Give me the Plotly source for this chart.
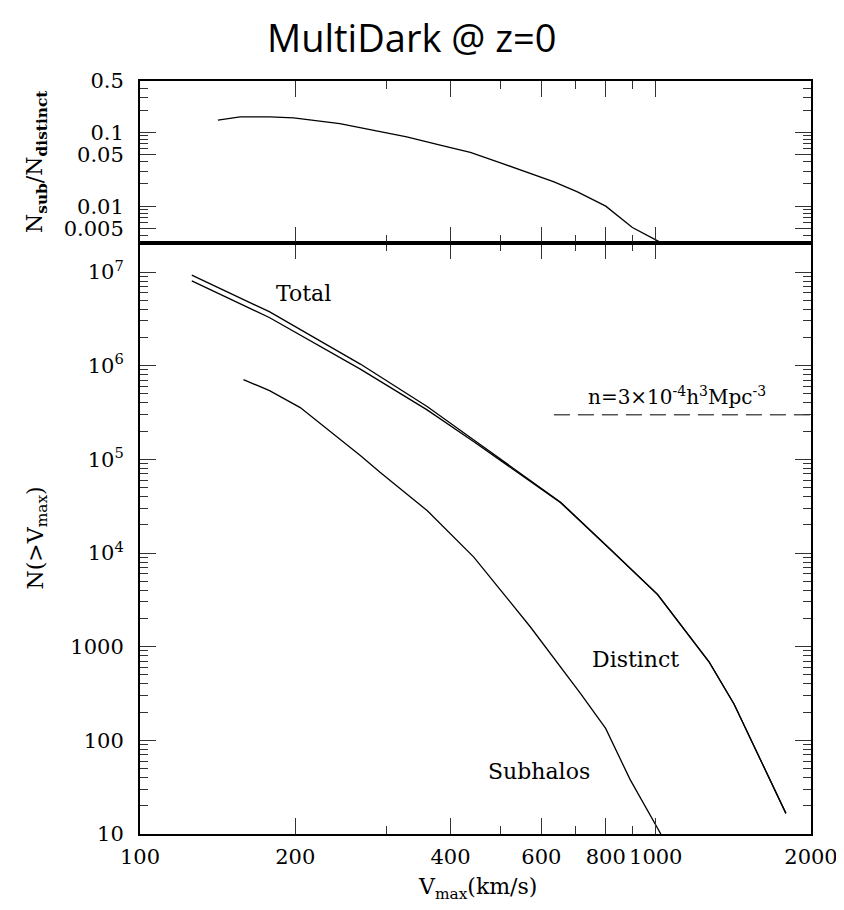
import numpy as np
import plotly.graph_objects as go

# ---------------- data ----------------
v_total = [126.0, 178.1, 267.4, 360.3, 443.2, 511.3, 654.0, 817.6, 1008, 1269, 1419, 1788]
n_total = [9.27e6, 3.77e6, 1.04e6, 3.66e5, 1.62e5, 9.25e4, 3.49e4, 1.09e4, 3620, 687, 243, 16.6]

v_distinct = [126.0, 178.1, 267.4, 360.3, 443.2, 511.3, 654.0, 817.6, 1008, 1269, 1419, 1788]
n_distinct = [8.05e6, 3.27e6, 9.18e5, 3.37e5, 1.55e5, 8.95e4, 3.44e4, 1.08e4, 3600, 686, 243, 16.6]

v_sub = [158.7, 178.3, 204.5, 267.4, 292.0, 360.3, 443.8, 571.5, 715.0, 799.6, 891.5, 1023]
n_sub = [7.10e5, 5.41e5, 3.57e5, 1.10e5, 7.28e4, 2.84e4, 9040, 1622, 316, 134, 38.3, 10]

v_ratio = [141.6, 156.4, 178.7, 198.6, 244, 329, 382, 437, 500, 635, 705, 800, 901, 1015]
r_ratio = [0.147, 0.163, 0.163, 0.158, 0.132, 0.0871, 0.0673, 0.0536, 0.0387, 0.0214,
           0.0156, 0.0100, 0.00514, 0.0033]

v_density = [634.6, 2000]
n_density = [3.0e5, 3.0e5]

x_tickvals = [100, 200, 400, 600, 800, 1000, 2000]
x_ticktext = ["100", "200", "400", "600", "800", "1000", "2000"]
x_minor = [300, 500, 700, 900]

y_tickvals = [10, 100, 1000, 1e4, 1e5, 1e6, 1e7]
y_ticktext = ["10", "100", "1000", "10<sup>4</sup>", "10<sup>5</sup>", "10<sup>6</sup>", "10<sup>7</sup>"]

r_tickvals = [0.005, 0.01, 0.05, 0.1, 0.5]
r_ticktext = ["0.005", "0.01", "0.05", "0.1", "0.5"]

# ----------------------------------------------------------------
SERIF = "DejaVu Serif"
FS = 21
split = 1 - 162 / 753

y_minor = [m * 10 ** e for e in range(1, 8) for m in range(2, 10) if m * 10 ** e < 2.05e7]
r_minor = [0.004, 0.006, 0.007, 0.008, 0.009, 0.02, 0.03, 0.04, 0.06, 0.07, 0.08, 0.09,
           0.2, 0.3, 0.4]

line = dict(color="black", width=1.3)
fig = go.Figure()
fig.add_trace(go.Scatter(x=v_total, y=n_total, mode="lines", line=line, xaxis="x", yaxis="y"))
fig.add_trace(go.Scatter(x=v_distinct, y=n_distinct, mode="lines", line=line, xaxis="x", yaxis="y"))
fig.add_trace(go.Scatter(x=v_sub, y=n_sub, mode="lines", line=line, xaxis="x", yaxis="y"))
fig.add_trace(go.Scatter(x=v_density, y=n_density, mode="lines",
                         line=dict(color="#555", width=1.5, dash="16px,8px"), xaxis="x", yaxis="y"))
fig.add_trace(go.Scatter(x=v_ratio, y=r_ratio, mode="lines", line=line, xaxis="x2", yaxis="y2"))

axis_common = dict(type="log", showgrid=False, zeroline=False, showline=True, linecolor="black",
                   linewidth=2, mirror="ticks", ticks="inside", ticklen=16, tickwidth=1,
                   tickcolor="#333", tickfont=dict(family=SERIF, size=FS, color="black"))

xr = [2, np.log10(2000)]
# the page body adds an 8px offset, so the figure is 8px smaller than the window
fig.update_layout(
    width=836, height=902,
    margin=dict(l=132, r=33, t=73, b=76, autoexpand=False),
    paper_bgcolor="white", plot_bgcolor="white",
    showlegend=False,
    xaxis=dict(axis_common, range=xr, domain=[0, 1], anchor="y",
               tickvals=x_tickvals, ticktext=x_ticktext, ticklabelstandoff=3,
               minor=dict(tickvals=x_minor, ticklen=8, ticks="inside", tickcolor="#333", showgrid=False)),
    yaxis=dict(axis_common, range=[1, np.log10(2.04e7)], domain=[0, split], anchor="x",
               tickvals=y_tickvals, ticktext=y_ticktext, ticklabelstandoff=10,
               minor=dict(tickvals=y_minor, ticklen=8, ticks="inside", tickcolor="#333", showgrid=False)),
    xaxis2=dict(axis_common, range=xr, domain=[0, 1], anchor="y2", showticklabels=False,
                tickvals=x_tickvals,
                minor=dict(tickvals=x_minor, ticklen=8, ticks="inside", tickcolor="#333", showgrid=False)),
    yaxis2=dict(axis_common, range=[-2.5, np.log10(0.5)], domain=[split, 1], anchor="x2",
                tickvals=r_tickvals, ticktext=r_ticktext, ticklabelstandoff=10,
                minor=dict(tickvals=r_minor, ticklen=8, ticks="inside", tickcolor="#333", showgrid=False)),
)

fig.add_shape(type="line", xref="paper", yref="paper", x0=0, x1=1, y0=split, y1=split,
              line=dict(color="black", width=3))

txt = dict(family=SERIF, size=22, color="black")
ann = [
    dict(text="MultiDark @ z=0", xref="paper", yref="paper", x=0.405, y=1 + 72 / 753,
         yanchor="top", font=dict(family="Open Sans", size=38, color="black")),
    dict(text="Total", xref="x", yref="y", x=2.3165, y=6.768, font=txt),
    dict(text="Distinct", xref="x", yref="y", x=2.960, y=2.866, font=txt),
    dict(text="Subhalos", xref="x", yref="y", x=2.7734, y=1.666, font=txt),
    dict(text="n=3×10<sup>-4</sup>h<sup>3</sup>Mpc<sup>-3</sup>", xref="x", yref="y",
         x=3.0408, y=5.68, font=dict(family=SERIF, size=20, color="black")),
    dict(text="N(>V<sub>max</sub>)", xref="paper", yref="paper", x=(37 - 140) / 671,
         y=split / 2, textangle=-90, font=txt),
    dict(text="N<sub><b>sub</b></sub>/N<sub><b>distinct</b></sub>", xref="paper", yref="paper",
         x=(36 - 140) / 671, y=split + (1 - split) / 2, textangle=-90, font=txt),
    dict(text="V<sub>max</sub>(km/s)", xref="paper", yref="paper", x=(477 - 140) / 671,
         y=-(888 - 834) / 753, font=txt),
]
for a in ann:
    a.setdefault("showarrow", False)
    a.setdefault("xanchor", "center")
    a.setdefault("yanchor", "middle")
    fig.add_annotation(**a)

fig.write_html("out.html")
